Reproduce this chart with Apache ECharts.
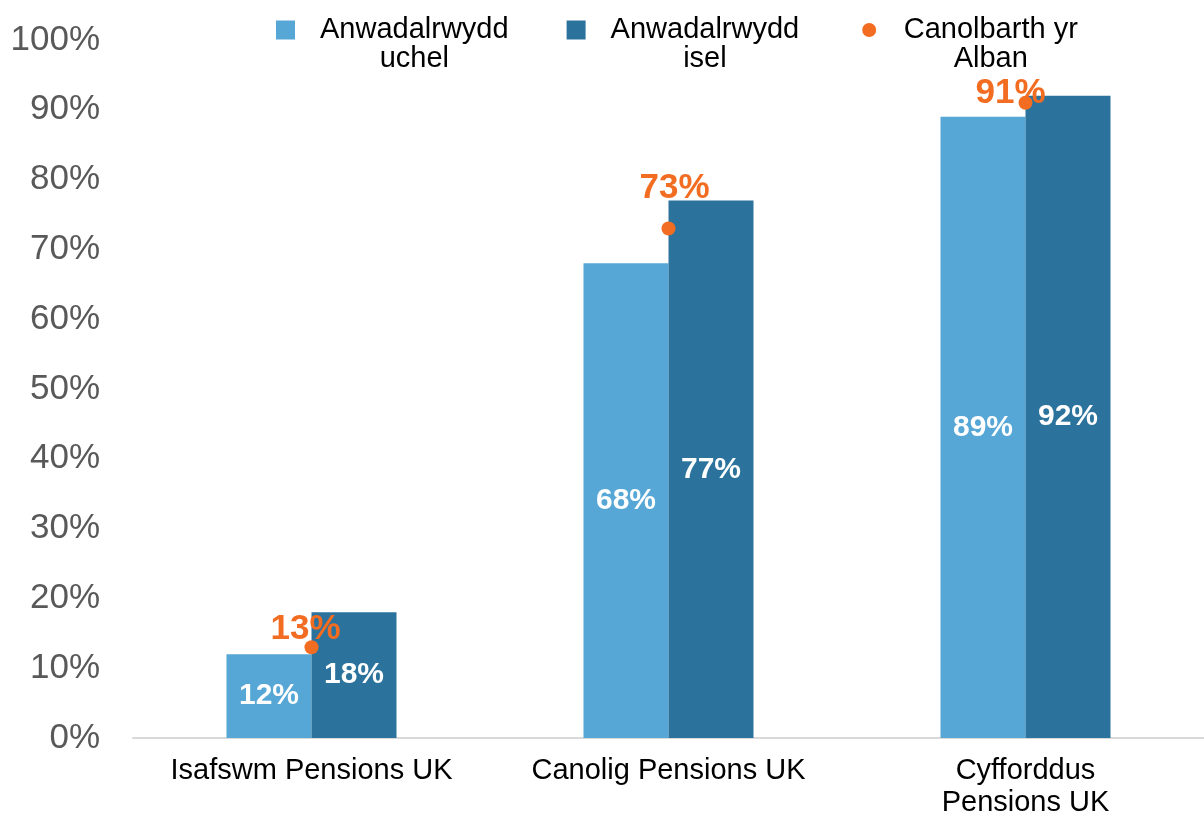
<!DOCTYPE html>
<html>
<head>
<meta charset="utf-8">
<script src="https://cdn.jsdelivr.net/npm/echarts@6/dist/echarts.min.js"></script>
<style>
  html, body { margin: 0; padding: 0; background: #fff; }
  #chart { width: 1204px; height: 819px; }
</style>
</head>
<body>
<div id="chart"></div>
<script>
// ============ data ============
const categories = ['Isafswm Pensions UK', 'Canolig Pensions UK', 'Cyfforddus Pensions UK']
const seriesNames = ['Anwadalrwydd uchel', 'Anwadalrwydd isel', 'Canolbarth yr Alban']
const highVol = [12, 68, 89]
const lowVol = [18, 77, 92]
const scotland = [13, 73, 91]

// label nudges for the Scotland markers (as placed in the original)
const scotLabelShift = [[-6, 12], [6, -11], [-15, 20]]

const FONT = "'Liberation Sans', Arial, sans-serif"
const LIGHT = '#56a7d6'
const DARK = '#2b739c'
const ORANGE = '#f26c22'

// legend names wrap after the first word, centred
const legendFormatter = (name) => {
  const words = name.split(' ')
  const cut = name === seriesNames[2] ? 2 : 1
  return '{t|' + words.slice(0, cut).join(' ') + '}\n{t|' + words.slice(cut).join(' ') + '}'
}

// long category names go onto two lines
const categoryFormatter = (name) =>
  name.length > 20 ? name.replace(' Pensions', '\nPensions') : name

const chart = echarts.init(document.getElementById('chart'))
chart.setOption({
  backgroundColor: '#fff',
  animation: false,
  textStyle: { fontFamily: FONT },
  legend: {
    left: 276,
    top: 15,
    padding: 0,
    itemWidth: 19,
    itemHeight: 19,
    itemGap: 58,
    formatter: legendFormatter,
    textStyle: {
      fontFamily: FONT,
      fontSize: 29,
      color: '#000',
      padding: [28, 0, 0, 20],
      rich: { t: { align: 'center', fontSize: 29, lineHeight: 29, fontFamily: FONT, color: '#000' } }
    },
    data: [
      { name: seriesNames[0], icon: 'rect' },
      { name: seriesNames[1], icon: 'rect' },
      { name: seriesNames[2], icon: 'circle', itemStyle: { borderColor: '#fff', borderWidth: 5, opacity: 1 } }
    ]
  },
  grid: { left: 133, right: 0, top: 40, bottom: 81, containLabel: false },
  xAxis: {
    type: 'category',
    data: categories,
    axisLine: { lineStyle: { color: '#d9d9d9', width: 2 } },
    axisTick: { show: false },
    axisLabel: {
      interval: 0,
      color: '#000',
      fontSize: 29,
      lineHeight: 32,
      margin: 17,
      formatter: categoryFormatter,
      fontFamily: FONT
    }
  },
  yAxis: {
    type: 'value',
    min: 0,
    max: 100,
    interval: 10,
    axisLine: { show: false },
    axisTick: { show: false },
    splitLine: { show: false },
    axisLabel: {
      color: '#595959',
      fontSize: 35,
      margin: 33,
      formatter: '{value}%',
      fontFamily: FONT
    }
  },
  series: [
    {
      name: seriesNames[0],
      type: 'bar',
      data: highVol,
      barWidth: 85,
      barGap: '0%',
      itemStyle: { color: LIGHT },
      label: {
        show: true,
        position: 'inside',
        formatter: '{c}%',
        color: '#fff',
        fontWeight: 'bold',
        fontSize: 30,
        fontFamily: FONT
      }
    },
    {
      name: seriesNames[1],
      type: 'bar',
      data: lowVol,
      barWidth: 85,
      barGap: '0%',
      itemStyle: { color: DARK },
      label: {
        show: true,
        position: 'inside',
        formatter: '{c}%',
        color: '#fff',
        fontWeight: 'bold',
        fontSize: 30,
        fontFamily: FONT
      }
    },
    {
      name: seriesNames[2],
      type: 'scatter',
      z: 5,
      symbol: 'circle',
      symbolSize: 14,
      itemStyle: { color: ORANGE, opacity: 1 },
      data: scotland.map((v, i) => ({
        value: v,
        label: { offset: scotLabelShift[i] }
      })),
      label: {
        show: true,
        position: 'top',
        formatter: '{c}%',
        color: ORANGE,
        fontWeight: 'bold',
        fontSize: 35,
        fontFamily: FONT
      }
    }
  ]
})
</script>
</body>
</html>
